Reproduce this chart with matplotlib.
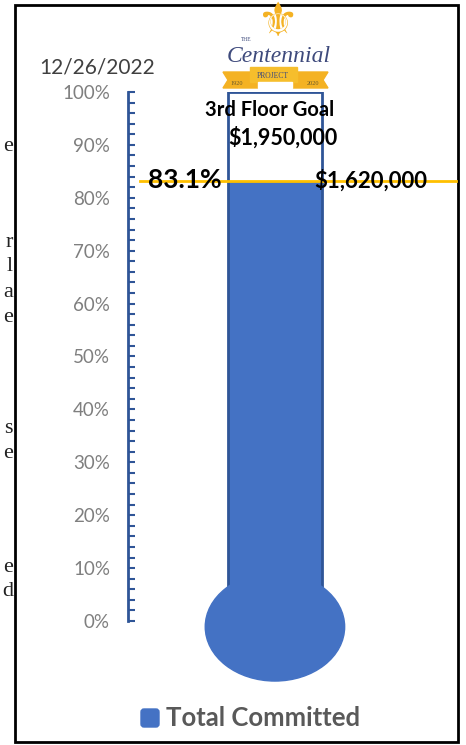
import matplotlib.pyplot as plt
import matplotlib.patches as mpatches
from matplotlib.ticker import MultipleLocator, PercentFormatter

# data
as_of = '12/26/2022'
goal_label = '3rd Floor Goal'
goal_amount = '$1,950,000'
committed = 1620000
goal = 1950000
pct = 0.831
series_name = 'Total Committed'
# cut-off words of the page behind the chart (letter, y position in px)
side_letters = ['e', 'r', 'l', 'a', 'e', 's', 'e', 'e', 'd']
side_y = [145, 241, 265, 291, 316, 427, 452, 566, 590]

blue = '#4472C4'
dark_blue = '#2F5597'
gold = '#FFC000'

W, H = 466, 745
fig = plt.figure(figsize=(W / 100, H / 100), dpi=100)

# overlay in pixel coords for frame, logo, legend
deco = fig.add_axes([0, 0, 1, 1], zorder=0)
deco.set_xlim(0, W)
deco.set_ylim(H, 0)
deco.axis('off')

deco.add_patch(mpatches.Rectangle((15, 5), 443, 737, fill=False, ec='black', lw=2))
for ch, y in zip(side_letters, side_y):
    deco.text(13, y + 6, ch, ha='right', va='baseline', fontsize=16,
              family='Liberation Serif', color='#222222')

# main thermometer axes: y is fraction of goal
ax = fig.add_axes([128 / W, (H - 621) / H, 328 / W, 529 / H], zorder=2)
ax.patch.set_alpha(0)
ax.set_xlim(0, 1)
ax.set_ylim(0, 1)
tube_x, tube_w = 0.448, 0.287

ax.bar(tube_x, pct, width=tube_w, color=blue, zorder=2)
ax.bar(tube_x, 1.0, width=tube_w, fill=False, edgecolor=dark_blue, lw=2, zorder=3)
ax.add_patch(mpatches.Ellipse((tube_x, -0.011), 0.425, 0.205, color=blue,
                              clip_on=False, zorder=4))
ax.plot([0.037, 1.0], [pct, pct], color=gold, lw=2, zorder=5, clip_on=False)

ax.yaxis.set_major_locator(MultipleLocator(0.1))
ax.yaxis.set_minor_locator(MultipleLocator(0.02))
ax.yaxis.set_major_formatter(PercentFormatter(1.0, decimals=0))
ax.tick_params(axis='y', which='both', direction='in', length=5, width=1.5,
               color=dark_blue, labelcolor='#7F7F7F', labelsize=13.5, pad=13)
for lab in ax.get_yticklabels():
    lab.set_family('Lato')
ax.set_xticks([])
for s in ['top', 'right', 'bottom']:
    ax.spines[s].set_visible(False)
ax.spines['left'].set_color(dark_blue)
ax.spines['left'].set_linewidth(2)

ax.text(0.061, 0.8185, f'{pct:.1%}', fontsize=19, fontweight='bold',
        family='Lato', va='baseline', ha='left', zorder=6)
ax.text(0.568, 0.8185, f'${committed:,}', fontsize=16, fontweight='bold',
        family='Lato', va='baseline', ha='left', zorder=6)
ax.text(0.433, 0.955, goal_label, fontsize=14.5, fontweight='bold',
        family='Lato', va='baseline', ha='center', zorder=6)
ax.text(0.4726, 0.90, f'${goal:,}', fontsize=15.5, fontweight='bold',
        family='Lato', va='baseline', ha='center', zorder=6)

# date above the scale
top = fig.add_axes([0, 0, 1, 1], zorder=3)
top.set_xlim(0, W)
top.set_ylim(H, 0)
top.axis('off')
top.text(97, 74, as_of, ha='center', va='baseline', fontsize=15,
         family='Lato', color='#404040')

# logo
top.text(277, 36, '\u269C', ha='center', va='baseline', fontsize=34,
         family='DejaVu Sans', color='#F4B223')
top.text(279, 62, 'Centennial', ha='center', va='baseline', fontsize=17,
         family='Liberation Serif', style='italic', color='#3E4A7C')
top.text(246, 41, 'THE', ha='center', va='baseline', fontsize=4,
         family='Liberation Serif', color='#3E4A7C')
top.add_patch(mpatches.Polygon([(223, 72), (258, 72), (258, 88), (223, 88), (228, 80)],
                               color='#F4B223'))
top.add_patch(mpatches.Polygon([(292, 72), (328, 72), (323, 80), (328, 88), (292, 88)],
                               color='#F4B223'))
top.add_patch(mpatches.Rectangle((250, 67), 47, 15, color='#F6BE2C'))
top.add_patch(mpatches.Rectangle((258, 82), 34, 6, color='white'))
top.text(273, 78, 'PROJECT', ha='center', va='baseline', fontsize=5.5,
         family='Liberation Serif', color='#3E4A7C')
top.text(237, 85, '1920', ha='center', va='baseline', fontsize=4.5,
         family='Liberation Serif', color='#6B5A2A')
top.text(313, 85, '2020', ha='center', va='baseline', fontsize=4.5,
         family='Liberation Serif', color='#6B5A2A')

# legend
top.add_patch(mpatches.FancyBboxPatch((141, 709), 18, 18, boxstyle='round,pad=0,rounding_size=3',
                                      color=blue))
top.text(166, 718, series_name, ha='left', va='center', fontsize=18.5,
         fontweight='bold', family='Lato', color='#595959')

fig.savefig('out.png', dpi=100)
